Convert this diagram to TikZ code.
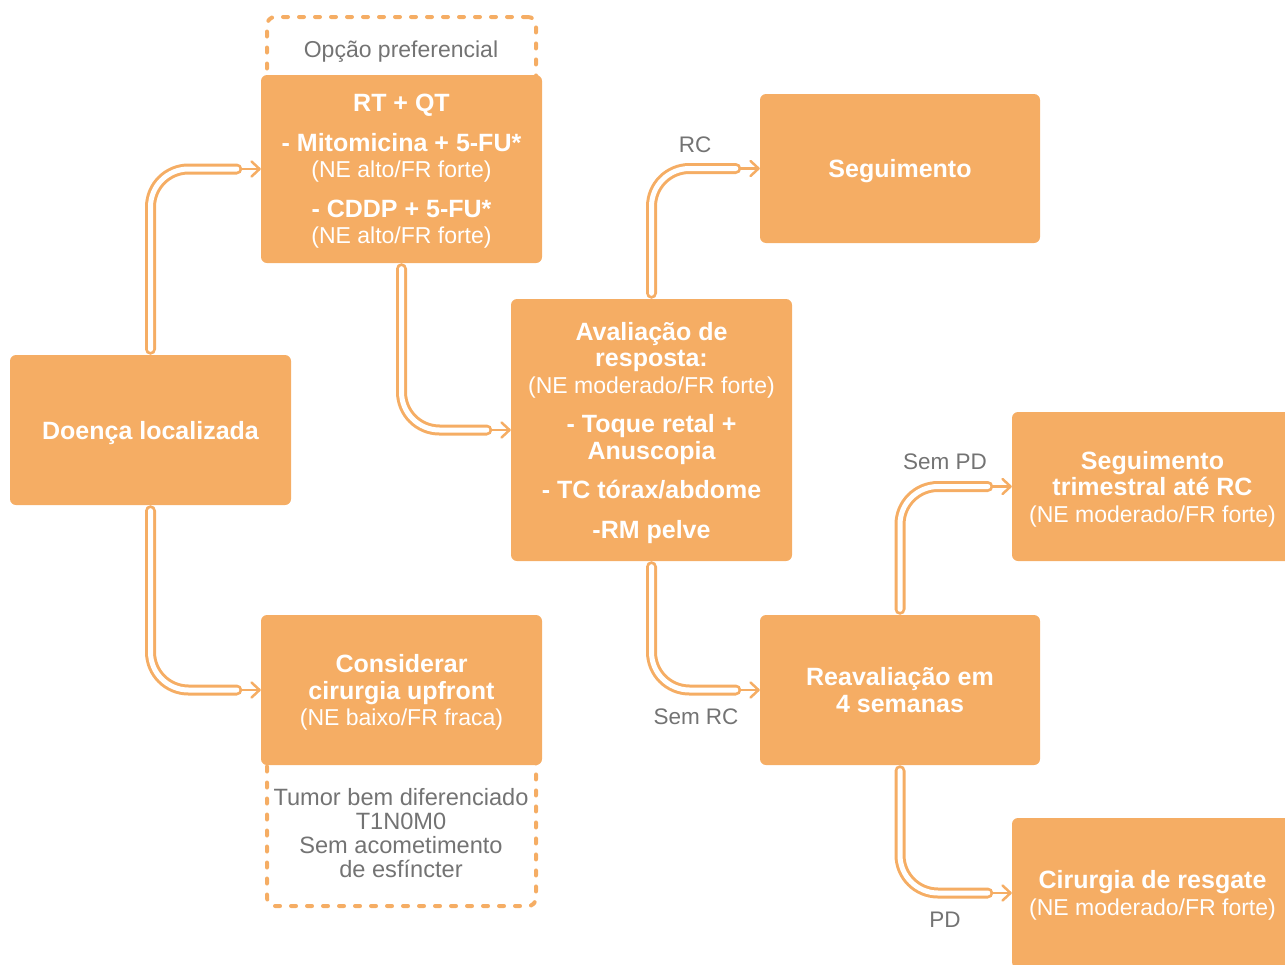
\documentclass[tikz,border=0pt]{standalone}
\usepackage{fontspec}
\setmainfont{Liberation Sans}
\usetikzlibrary{arrows.meta}
\definecolor{boxor}{HTML}{F5AD64}
\definecolor{labgray}{HTML}{737373}
\newcommand{\hb}[1]{{\fontsize{25}{26.5}\selectfont\bfseries #1}}
\newcommand{\ld}[1]{\raisebox{0pt}[\height][0pt]{#1}}
\begin{document}
\begin{tikzpicture}[x=1pt,y=-1pt,
 box/.style={fill=boxor, rounded corners=6pt, text=white, align=center, minimum width=281pt, minimum height=150pt, inner sep=0pt, font=\fontsize{23}{26.5}\selectfont},
 tube/.style={draw=boxor, line width=3pt, double=white, double distance=5pt, line cap=round, rounded corners=38pt},
 arr/.style={draw=boxor, line width=2.5pt, -{Straight Barb[length=8pt,width=15pt,round]}},
 lab/.style={text=labgray, font=\fontsize{22.5}{26.5}\selectfont},
 dashbox/.style={draw=boxor, line width=4pt, dash pattern=on 5pt off 11pt, line cap=round, rounded corners=8pt, inner sep=0pt}
]
\useasboundingbox (0,0) rectangle (1285,964);
\clip (0,0) rectangle (1285,964);
% dashed annotation frames
\node[dashbox, minimum width=269pt, minimum height=100pt] (optdash) at (401.5,67) {};
\node[dashbox, minimum width=269pt, minimum height=170pt] (tumdash) at (401.5,821) {};
% boxes
\node[box] (doenca) at (150.5,430) {\ld{\hb{Doença localizada}}};
\node[box, minimum height=188pt] (rtqt) at (401.5,169) {\hb{RT + QT}\\[13pt]\hb{- Mitomicina + 5-FU*}\\(NE alto/FR forte)\\[13pt]\hb{- CDDP + 5-FU*}\\\ld{(NE alto/FR forte)}};
\node[box] (consid) at (401.5,690) {\hb{Considerar}\\\hb{cirurgia upfront}\\\ld{(NE baixo/FR fraca)}};
\node[box, minimum height=262pt] (aval) at (651.5,430) {\hb{Avaliação de}\\\hb{resposta:}\\(NE moderado/FR forte)\\[13pt]\hb{- Toque retal +}\\\hb{Anuscopia}\\[13pt]\hb{- TC tórax/abdome}\\[13pt]\ld{\hb{-RM pelve}}};
\node[box, minimum width=280pt, minimum height=149pt] (seg) at (900,168.5) {\ld{\hb{Seguimento}}};
\node[box, minimum width=280pt] (reav) at (900,690) {\hb{Reavaliação em}\\\ld{\hb{4 semanas}}};
\node[box, minimum height=149pt] (segtri) at (1152.5,486.5) {\hb{Seguimento}\\\hb{trimestral até RC}\\\ld{(NE moderado/FR forte)}};
\node[box] (cirurg) at (1152.5,893) {\hb{Cirurgia de resgate}\\\ld{(NE moderado/FR forte)}};
% connectors
\draw[tube] ([yshift=5.5pt]doenca.north) |- ([xshift=-24pt]rtqt.west);
\draw[arr] ([xshift=-19pt]rtqt.west) -- (rtqt.west);
\draw[tube] ([yshift=-5.5pt]doenca.south) |- ([xshift=-24pt]consid.west);
\draw[arr] ([xshift=-19pt]consid.west) -- (consid.west);
\draw[tube] ([yshift=-5.5pt]rtqt.south) |- ([xshift=-24pt]aval.west);
\draw[arr] ([xshift=-19pt]aval.west) -- (aval.west);
\draw[tube] ([yshift=5.5pt]aval.north) |- ([xshift=-24pt]seg.west);
\draw[arr] ([xshift=-19pt]seg.west) -- (seg.west);
\draw[tube] ([yshift=-5.5pt]aval.south) |- ([xshift=-24pt]reav.west);
\draw[arr] ([xshift=-19pt]reav.west) -- (reav.west);
\draw[tube] ([yshift=5.5pt]reav.north) |- ([xshift=-24pt]segtri.west);
\draw[arr] ([xshift=-19pt]segtri.west) -- (segtri.west);
\draw[tube] ([yshift=-5.5pt]reav.south) |- ([xshift=-24pt]cirurg.west);
\draw[arr] ([xshift=-19pt]cirurg.west) -- (cirurg.west);
% labels
\node[lab] (lrc) at (695,145) {RC};
\node[lab] (lsemrc) at (696,717) {Sem RC};
\node[lab] (lsempd) at (945,462) {Sem PD};
\node[lab] (lpd) at (945,920) {PD};
\node[lab, font=\fontsize{23}{26.5}\selectfont] (lopt) at (401,52) {Opção preferencial};
\node[lab, align=center, font=\fontsize{23.6}{24}\selectfont] (ltumor) at (401,833) {Tumor bem diferenciado\\T1N0M0\\Sem acometimento\\de esfíncter};
\end{tikzpicture}
\end{document}
